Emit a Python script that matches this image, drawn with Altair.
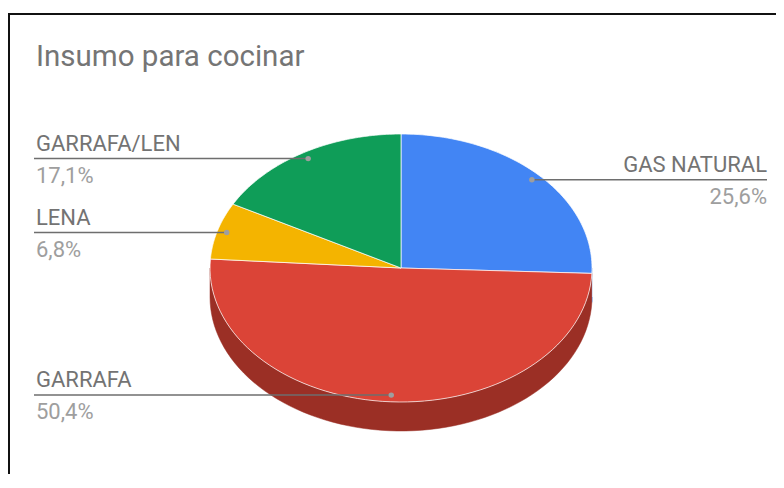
import altair as alt
import pandas as pd

# ---- data ----
categorias = ["GAS NATURAL", "GARRAFA", "LENA", "GARRAFA/LEN"]
respuestas = [30, 59, 8, 20]
titulo = "Insumo para cocinar"

# ---- styles ----
colores = ["#4285f4", "#db4437", "#f4b400", "#0f9d58"]
colores_lado = ["#2a5db3", "#9b2f25", "#aa7e00", "#0b6e3e"]

df = pd.DataFrame({"cat": categorias, "n": respuestas,
                   "idx": list(range(len(categorias)))})

W, H = 768, 466
X0, Y0 = 8, 8
CX, CY, RX, RY, DEPTH = 401, 268, 191, 134, 29
N = 72
RLAB = 0.95
XR, XL = 767, 34

xs = alt.Scale(domain=[X0, X0 + W], nice=False, zero=False)
ys = alt.Scale(domain=[Y0, Y0 + H], nice=False, zero=False, reverse=True)


def X(f):
    return alt.X(f, type="quantitative", scale=xs, axis=None)


def Y(f):
    return alt.Y(f, type="quantitative", scale=ys, axis=None)


base = (
    alt.Chart(df)
    .transform_joinaggregate(total="sum(n)")
    .transform_window(cum="sum(n)", sort=[alt.SortField("idx", order="ascending")],
                      frame=[None, 0])
    .transform_calculate(
        a0="(datum.cum - datum.n) / datum.total * 2 * PI",
        a1="datum.cum / datum.total * 2 * PI",
    )
)

# side wall (front half only)
side = (
    base.transform_calculate(s="max(datum.a0, PI / 2)", e="min(datum.a1, 3 * PI / 2)")
    .transform_filter("datum.e > datum.s")
    .transform_calculate(ks=f"sequence(0, {2 * N + 2})")
    .transform_flatten(["ks"], as_=["k"])
    .transform_calculate(
        t=f"datum.k <= {N} ? datum.k : {2 * N + 1} - datum.k",
        bottom=f"datum.k > {N}",
    )
    .transform_calculate(ang=f"datum.s + (datum.e - datum.s) * datum.t / {N}")
    .transform_calculate(
        px=f"{CX} + {RX} * sin(datum.ang)",
        py=f"{CY} - {RY} * cos(datum.ang) + (datum.bottom ? {DEPTH} : 0)",
    )
    .mark_line(strokeWidth=0.5, interpolate="linear")
    .encode(
        x=X("px"), y=Y("py"), order=alt.Order("k:Q"),
        fill=alt.Fill("cat:N", scale=alt.Scale(domain=categorias, range=colores_lado), legend=None),
        stroke=alt.Stroke("cat:N", scale=alt.Scale(domain=categorias, range=colores_lado), legend=None),
    )
)

# top wedges
top = (
    base.transform_calculate(ks=f"sequence(-1, {N + 2})")
    .transform_flatten(["ks"], as_=["k"])
    .transform_calculate(
        ang=f"datum.a0 + (datum.a1 - datum.a0) * clamp(datum.k, 0, {N}) / {N}",
        edge=f"datum.k >= 0 && datum.k <= {N}",
    )
    .transform_calculate(
        px=f"datum.edge ? {CX} + {RX} * sin(datum.ang) : {CX}",
        py=f"datum.edge ? {CY} - {RY} * cos(datum.ang) : {CY}",
    )
    .mark_line(strokeWidth=1, strokeJoin="round", interpolate="linear", strokeOpacity=0.7)
    .encode(
        x=X("px"), y=Y("py"), order=alt.Order("k:Q"),
        fill=alt.Fill("cat:N", scale=alt.Scale(domain=categorias, range=colores), legend=None),
        stroke=alt.value("#ffffff"),
    )
)

lab = (
    base.transform_calculate(
        mid="(datum.a0 + datum.a1) / 2",
        pct="replace(format(datum.n / datum.total * 100, '.1f'), '.', ',') + '%'",
    )
    .transform_calculate(
        dx=f"{CX} + {RLAB * RX} * sin(datum.mid)",
        dy=f"{CY} - {RLAB * RY} * cos(datum.mid)",
        right="sin(datum.mid) >= 0",
    )
    .transform_calculate(
        ex=f"datum.right ? {XR} : {XL}",
        tx=f"datum.right ? {XR} : {XL + 2}",
        ny="datum.dy - 8",
        py2="datum.dy + 24",
    )
)

rules = lab.mark_rule(color="#6e6e6e", strokeWidth=1.5).encode(
    x=X("dx"), x2="ex:Q", y=Y("dy"))
dots = lab.mark_circle(size=30, color="#9e9e9e", opacity=1).encode(x=X("dx"), y=Y("dy"))

txt_common = dict(baseline="alphabetic", font="Roboto", fontSize=22)
name_r = lab.transform_filter("datum.right").mark_text(
    align="right", color="#737373", **txt_common).encode(x=X("tx"), y=Y("ny"), text="cat:N")
name_l = lab.transform_filter("!datum.right").mark_text(
    align="left", color="#737373", **txt_common).encode(x=X("tx"), y=Y("ny"), text="cat:N")
pct_r = lab.transform_filter("datum.right").mark_text(
    align="right", color="#9e9e9e", **txt_common).encode(x=X("tx"), y=Y("py2"), text="pct:N")
pct_l = lab.transform_filter("!datum.right").mark_text(
    align="left", color="#9e9e9e", **txt_common).encode(x=X("tx"), y=Y("py2"), text="pct:N")

one = pd.DataFrame({"t": [titulo]})
title = alt.Chart(one).mark_text(
    align="left", baseline="alphabetic", font="Roboto", fontSize=29.5, color="#757575"
).encode(x=alt.value(28), y=alt.value(58), text="t:N")

frame_top = alt.Chart(one).mark_rule(color="#111111", strokeWidth=2).encode(
    x=alt.value(0), x2=alt.value(W), y=alt.value(6))
frame_left = alt.Chart(one).mark_rule(color="#111111", strokeWidth=2).encode(
    x=alt.value(1), y=alt.value(5), y2=alt.value(H))

chart = (
    alt.layer(frame_top, frame_left, side, top, rules, dots,
              name_r, name_l, pct_r, pct_l, title)
    .resolve_scale(fill="independent", stroke="independent")
    .properties(width=W, height=H, padding=0,
                autosize=alt.AutoSizeParams(type="none"), background="#ffffff")
    .configure_view(strokeWidth=0)
)

chart.save("out.html", embed_options={"renderer": "svg", "actions": False})
